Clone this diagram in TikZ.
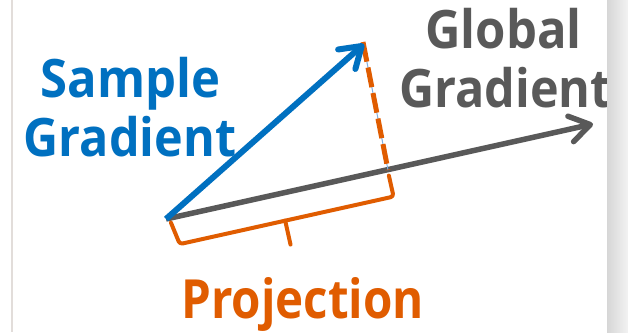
\documentclass[tikz,border=0pt]{standalone}
\usepackage{fontspec}
\usepackage{graphicx}
\setmainfont{Open Sans}
\usetikzlibrary{arrows.meta}
\definecolor{sgblue}{HTML}{0070C0}
\definecolor{ggray}{HTML}{595959}
\definecolor{porange}{HTML}{E05C00}
\definecolor{thinblue}{HTML}{7FAFE0}
\definecolor{edgegray}{HTML}{E2DDDA}
\newcommand{\narrow}[2]{\scalebox{#1}[1]{#2}}
\tikzset{
  lbl/.style={inner sep=0pt, anchor=base, font=\bfseries\fontsize{53}{59}\selectfont},
  vec/.style={-{Straight Barb[length=20pt,width=26pt,round]}},
  projline/.style={porange, line width=5pt, dash pattern=on 20pt off 6pt},
  bracket/.style={porange, line width=4pt, line cap=round, line join=round, rounded corners=3pt},
}
\begin{document}
\begin{tikzpicture}[x=1pt,y=-1pt]
\useasboundingbox (0,0) rectangle (628,332);
\fill[white] (0,0) rectangle (628,332);
\draw[edgegray, line width=2pt] (12,0) -- (12,332);
% origin and tips
\coordinate (O) at (166,219);
\coordinate (S) at (364,44);
\coordinate (G) at (593,124);
\coordinate (Dtop) at (363,42);
\coordinate (P) at (388,170);
% texts
\node[lbl, text=sgblue] (s1) at (130.5,97) {\narrow{0.925}{Sample}};
\node[lbl, text=sgblue] (s2) at (130,156) {\narrow{0.915}{Gradient}};
\node[lbl, text=ggray] (g1) at (503.5,48) {\narrow{0.925}{Global}};
\node[lbl, text=ggray] (g2) at (505.5,107) {\narrow{0.915}{Gradient}};
\node[lbl, text=porange, font=\bfseries\fontsize{54}{60}\selectfont] (pj) at (302.5,318) {\narrow{0.88}{Projection}};
% vectors
\draw[vec, ggray, line width=5.5pt] (O) -- (G);
\draw[thinblue, line width=1pt] (Dtop) -- (P);
\draw[projline] (Dtop) -- (P);
\draw[vec, sgblue, line width=6pt] (O) -- (S);
% bracket in the frame of the global gradient
\begin{scope}[shift={(O)}, rotate=12.54]
  \coordinate (b0) at (4,4.5);
  \coordinate (b1) at (8,27.5);
  \coordinate (bm) at (116,27.5);
  \coordinate (bt) at (116,52);
  \coordinate (b2) at (227,27.5);
  \coordinate (b3) at (227,6);
\end{scope}
\draw[bracket] (b0) -- (b1) -- (bm) -- (b2) -- (b3);
\draw[bracket] (bm) -- (bt);
% right shadow panel
\shade[left color=gray!32, right color=gray!10] (607,0) rectangle (628,332);
\end{tikzpicture}
\end{document}
